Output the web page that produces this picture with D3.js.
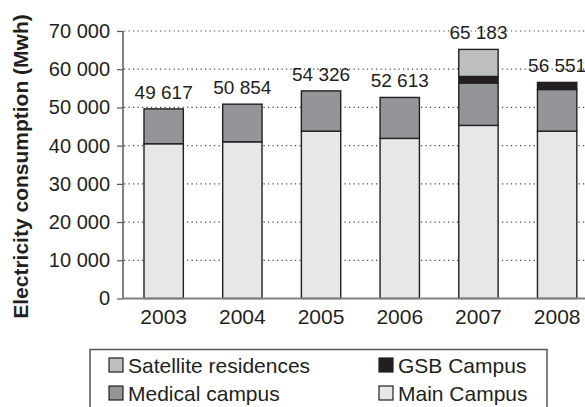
<!DOCTYPE html>
<html><head><meta charset="utf-8">
<script src="https://cdn.jsdelivr.net/npm/d3@7"></script>
<style>
html,body{margin:0;padding:0;background:#fff;}
svg{display:block;font-family:"Liberation Sans",Arial,Helvetica,sans-serif;}
</style></head>
<body>
<svg id="chart" width="585" height="407"></svg>
<script>
const years = ["2003","2004","2005","2006","2007","2008"];
const mainCampus = [40500, 41000, 43800, 41900, 45300, 43800];
const medicalCampus = [9117, 9854, 10526, 10713, 11100, 10900];
const gsbCampus = [0, 0, 0, 0, 1700, 1851];
const satelliteResidences = [0, 0, 0, 0, 7083, 0];
const totalLabels = ["49 617","50 854","54 326","52 613","65 183","56 551"];
const yTicks = [0,10000,20000,30000,40000,50000,60000,70000];
const seriesNames = ["Main Campus","Medical campus","GSB Campus","Satellite residences"];
const seriesColors = ["#e6e7e9","#939598","#231f20","#bcbec0"];

const svg = d3.select("#chart");
const x = d3.scaleBand().domain(years).range([124, 596.8]).paddingInner(0.5).paddingOuter(0.254);
const y = d3.scaleLinear().domain([0,70000]).range([298.5, 31]);

const rows = years.map((yr,i)=>({year:yr, "Main Campus":mainCampus[i], "Medical campus":medicalCampus[i], "GSB Campus":gsbCampus[i], "Satellite residences":satelliteResidences[i]}));
const stack = d3.stack().keys(seriesNames)(rows);

svg.append("g").selectAll("line").data(yTicks.filter(d=>d>0)).join("line")
  .attr("x1",124).attr("x2",585).attr("y1",d=>y(d)).attr("y2",d=>y(d))
  .attr("stroke","#444").attr("stroke-width",1.2).attr("stroke-dasharray","1.2,3.3");

stack.forEach((layer,k)=>{
  svg.append("g").selectAll("rect").data(layer.filter(d=>d[1]-d[0]>0)).join("rect")
    .attr("x",d=>x(d.data.year)).attr("width",x.bandwidth())
    .attr("y",d=>y(d[1])).attr("height",d=>y(d[0])-y(d[1]))
    .attr("fill",seriesColors[k]).attr("stroke","#231f20").attr("stroke-width",1.4);
});

const totals = years.map((yr,i)=>mainCampus[i]+medicalCampus[i]+gsbCampus[i]+satelliteResidences[i]);
svg.append("g").attr("class","vals").selectAll("text").data(years).join("text")
  .attr("x",d=>x(d)+x.bandwidth()/2).attr("y",(d,i)=>y(totals[i])-10)
  .attr("text-anchor","middle").attr("font-size",19).attr("fill","#231f20")
  .text((d,i)=>totalLabels[i]);

const yAxis = d3.axisLeft(y).tickValues(yTicks).tickSize(6).tickPadding(7)
  .tickFormat(d=>d3.format(",")(d).replace(/,/g," "));
const ga = svg.append("g").attr("transform","translate(123,0)").call(yAxis);
ga.attr("font-size",null).attr("font-family",null);
ga.select(".domain").attr("stroke","#808080").attr("stroke-width",2).attr("d","M0,"+y(70000)+"V"+y(0));
ga.selectAll(".tick line").attr("stroke","#555").attr("stroke-width",1.2);
ga.selectAll(".tick text").style("font-size","20px").attr("fill","#231f20");

const xAxis = d3.axisBottom(x).tickSize(0).tickPadding(10);
const gx = svg.append("g").attr("transform","translate(0,"+y(0)+")").call(xAxis);
gx.attr("font-size",null).attr("font-family",null);
gx.select(".domain").attr("stroke","#808080").attr("stroke-width",2).attr("d","M123,0H585");
gx.selectAll(".tick text").style("font-size","21px").attr("fill","#231f20").attr("dy","0.75em");

svg.append("text").attr("transform","translate(28,166.5) rotate(-90)")
  .attr("text-anchor","middle").attr("font-size",21).attr("font-weight","bold").attr("fill","#231f20")
  .text("Electricity consumption (Mwh)");

svg.append("rect").attr("x",90).attr("y",349.5).attr("width",457).attr("height",80)
  .attr("fill","none").attr("stroke","#555").attr("stroke-width",1.5);
const legendOrder = [["Satellite residences",3,109,365],["GSB Campus",2,379,365],["Medical campus",1,109,393],["Main Campus",0,379,393]];
const lg = svg.append("g").selectAll("g").data(legendOrder).join("g")
  .attr("transform",d=>`translate(${d[2]},${d[3]})`);
lg.append("rect").attr("x",0).attr("y",-7).attr("width",14).attr("height",14)
  .attr("fill",d=>seriesColors[d[1]]).attr("stroke","#231f20").attr("stroke-width",1.2);
lg.append("text").attr("x",19).attr("y",0).attr("dy","0.36em").attr("font-size",21).attr("fill","#231f20").text(d=>d[0]);
</script>
</body></html>
